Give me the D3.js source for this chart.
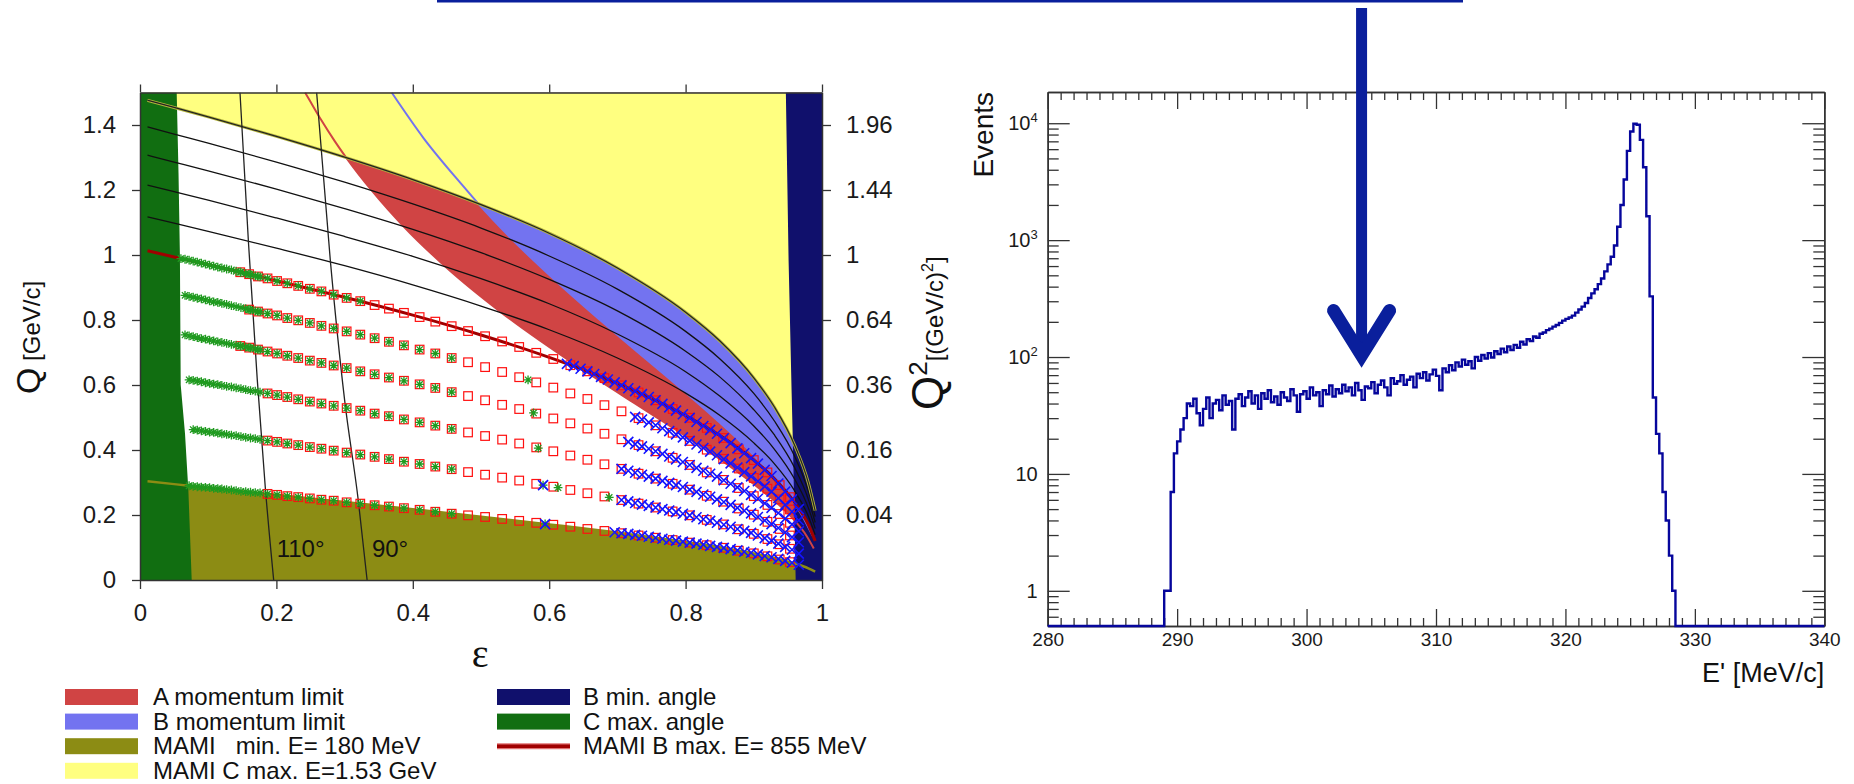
<!DOCTYPE html>
<html lang="en">
<head>
<meta charset="utf-8">
<title>Q vs epsilon coverage and E' spectrum</title>
<script src="https://cdn.jsdelivr.net/npm/d3@7"></script>
<style>
  html, body { margin: 0; padding: 0; background: #fff; }
  svg { display: block; font-family: "Liberation Sans", Arial, sans-serif; }
  .axis text { fill: #1a1a1a; }
  .axis path, .axis line { stroke: #333; }
</style>
</head>
<body>
<svg id="chart" width="1854" height="784"></svg>
<script>
// ---------------- left panel data (epsilon, Q in GeV/c) ----------------
// beam-energy curves, sampled at these epsilon values
const lineEps = [0.011, 0.05, 0.1, 0.2, 0.3, 0.4, 0.5, 0.6, 0.7, 0.8, 0.85, 0.9, 0.93, 0.96, 0.98, 0.99];
const q1530 = [1.476, 1.454, 1.425, 1.365, 1.301, 1.232, 1.155, 1.067, 0.960, 0.824, 0.736, 0.622, 0.533, 0.414, 0.299, 0.213];
const q1395 = [1.394, 1.372, 1.344, 1.286, 1.224, 1.157, 1.083, 0.997, 0.895, 0.765, 0.681, 0.574, 0.490, 0.380, 0.273, 0.195];
const q1260 = [1.307, 1.286, 1.259, 1.203, 1.143, 1.079, 1.007, 0.925, 0.828, 0.704, 0.625, 0.524, 0.447, 0.345, 0.248, 0.177];
const q1125 = [1.215, 1.195, 1.169, 1.114, 1.057, 0.996, 0.927, 0.850, 0.757, 0.641, 0.566, 0.474, 0.403, 0.310, 0.222, 0.158];
const q990  = [1.117, 1.098, 1.073, 1.021, 0.967, 0.908, 0.843, 0.770, 0.683, 0.575, 0.507, 0.422, 0.358, 0.274, 0.196, 0.139];
const q855  = [1.013, 0.994, 0.970, 0.921, 0.870, 0.815, 0.754, 0.685, 0.605, 0.506, 0.445, 0.369, 0.312, 0.238, 0.170, 0.120];
const q180  = [0.304, 0.295, 0.284, 0.262, 0.240, 0.218, 0.195, 0.171, 0.146, 0.117, 0.101, 0.082, 0.068, 0.051, 0.036, 0.026];

// spectrometer limits
const aLimitEps = [0.242, 0.2472, 0.2653, 0.286, 0.3026, 0.34, 0.387, 0.448, 0.5305, 0.647, 0.725, 0.777, 0.823, 0.857, 0.903, 0.955, 0.977, 0.988];
const aLimitQ   = [1.5, 1.4815, 1.4168, 1.349, 1.299, 1.198, 1.087, 0.964, 0.822, 0.65, 0.544, 0.4745, 0.411, 0.362, 0.29, 0.194, 0.137, 0.097];
const bLimitEps = [0.369, 0.416, 0.473, 0.496, 0.548, 0.613, 0.695, 0.802, 0.845, 0.893, 0.946, 0.972, 0.986];
const bLimitQ   = [1.5, 1.359, 1.214, 1.158, 1.043, 0.914, 0.763, 0.573, 0.494, 0.399, 0.274, 0.194, 0.137];
const cMaxEps = [0.0538, 0.0565, 0.0585, 0.0597, 0.066, 0.0709, 0.0758];
const cMaxQ   = [1.5, 1.25, 1.0, 0.6, 0.45, 0.277, 0];
const bMinEps = [0.947, 0.951, 0.9555, 0.958, 0.9614];
const bMinQ   = [1.5, 0.985, 0.574, 0.36, 0];

// constant angle lines
const a110Eps = [0.1466, 0.159, 0.172, 0.184, 0.196];
const a110Q   = [1.5, 1.04, 0.615, 0.277, 0];
const a90Eps  = [0.259, 0.279, 0.300, 0.320, 0.333];
const a90Q    = [1.5, 0.985, 0.554, 0.246, 0];
const angleLabels = ['110°', '90°'];
const angleLabelEps = [0.2004, 0.340];
const angleLabelQ = [0.072, 0.072];

// measurement rows (855, 720, 585, 450, 315, 180 MeV)
const starEps = [0.060, 0.066, 0.072, 0.078, 0.084, 0.090, 0.096, 0.102, 0.108, 0.114, 0.120, 0.127, 0.134, 0.141, 0.148, 0.155, 0.162, 0.169, 0.176];
const starQ = [
  [0.989, 0.987, 0.984, 0.981, 0.978, 0.975, 0.972, 0.969, 0.966, 0.963, 0.960, 0.957, 0.954, 0.950, 0.947, 0.943, 0.940, 0.936, 0.933],
  [null, 0.876, 0.873, 0.870, 0.867, 0.865, 0.862, 0.859, 0.856, 0.854, 0.851, 0.848, 0.844, 0.841, 0.838, 0.835, 0.831, 0.828, 0.825],
  [null, 0.754, 0.751, 0.749, 0.746, 0.743, 0.741, 0.738, 0.736, 0.733, 0.731, 0.728, 0.725, 0.723, 0.720, 0.717, 0.714, 0.711, 0.708],
  [null, null, 0.616, 0.614, 0.612, 0.610, 0.607, 0.605, 0.603, 0.601, 0.599, 0.596, 0.594, 0.591, 0.589, 0.586, 0.583, 0.581, 0.578],
  [null, null, null, 0.463, 0.461, 0.459, 0.457, 0.455, 0.454, 0.452, 0.450, 0.448, 0.446, 0.444, 0.441, 0.439, 0.437, 0.435, 0.433],
  [null, null, 0.290, 0.288, 0.287, 0.286, 0.285, 0.284, 0.282, 0.281, 0.280, 0.278, 0.277, 0.275, 0.273, 0.272, 0.270, 0.269, 0.268]
];
const squareEps = [0.147, 0.160, 0.173, 0.187, 0.201, 0.216, 0.232, 0.249, 0.266, 0.284, 0.303, 0.323, 0.344, 0.365, 0.387, 0.410, 0.433, 0.457, 0.481, 0.506,
  0.531, 0.556, 0.581, 0.606, 0.631, 0.656, 0.681, 0.706, 0.731, 0.756, 0.781, 0.806, 0.831, 0.855, 0.878, 0.900, 0.920, 0.938, 0.953];
const squareQ = [
  [0.947, 0.941, 0.934, 0.928, 0.920, 0.913, 0.905, 0.896, 0.888, 0.878, 0.868, 0.858, 0.846, 0.835, 0.822, 0.809, 0.795, 0.781, 0.766, 0.750,
   0.734, 0.717, 0.699, 0.680, 0.661, 0.642, 0.621, 0.599, 0.577, 0.553, 0.526, 0.499, 0.468, 0.437, 0.402, 0.369, 0.331, 0.292, 0.255],
  [null, 0.832, 0.826, 0.820, 0.814, 0.806, 0.799, 0.791, 0.782, 0.774, 0.765, 0.755, 0.744, 0.733, 0.722, 0.709, 0.697, 0.683, 0.670, 0.655,
   0.640, 0.624, 0.608, 0.592, 0.574, 0.557, 0.538, 0.519, 0.498, 0.476, 0.453, 0.428, 0.401, 0.373, 0.343, 0.314, 0.281, 0.248, 0.217],
  [0.720, 0.715, 0.709, 0.703, 0.697, 0.690, 0.683, 0.675, 0.668, 0.660, 0.652, 0.642, 0.633, 0.623, 0.613, 0.602, 0.591, 0.578, 0.566, 0.553,
   0.539, 0.526, 0.512, 0.497, 0.482, 0.466, 0.450, 0.433, 0.415, 0.396, 0.376, 0.354, 0.331, 0.308, 0.283, 0.258, 0.231, 0.203, 0.176],
  [null, null, null, 0.574, 0.569, 0.563, 0.556, 0.549, 0.543, 0.536, 0.529, 0.521, 0.512, 0.504, 0.494, 0.485, 0.475, 0.465, 0.454, 0.443,
   0.432, 0.420, 0.408, 0.396, 0.383, 0.370, 0.356, 0.342, 0.327, 0.312, 0.296, 0.278, 0.259, 0.241, 0.220, 0.201, 0.179, 0.157, 0.137],
  [null, null, null, 0.429, 0.425, 0.420, 0.415, 0.409, 0.404, 0.398, 0.392, 0.386, 0.379, 0.372, 0.364, 0.357, 0.349, 0.341, 0.332, 0.324,
   0.315, 0.306, 0.296, 0.287, 0.277, 0.267, 0.257, 0.246, 0.235, 0.223, 0.211, 0.199, 0.185, 0.171, 0.156, 0.142, 0.126, 0.110, 0.096],
  [null, null, null, 0.265, 0.262, 0.258, 0.255, 0.251, 0.247, 0.244, 0.239, 0.235, 0.230, 0.226, 0.221, 0.216, 0.210, 0.204, 0.199, 0.194,
   0.188, 0.182, 0.176, 0.170, 0.164, 0.157, 0.151, 0.144, 0.137, 0.130, 0.123, 0.115, 0.107, 0.099, 0.090, 0.082, 0.073, 0.063, 0.055]
];
const lastStarSquare = [11, 17, 17, 17, 17, 17];
const extraStarEps = [0.569, 0.577, 0.584, 0.591, 0.613, 0.688, 0.594];
const extraStarQ   = [0.616, 0.514, 0.406, 0.292, 0.284, 0.254, 0.173];
const crossEps = [0.626, 0.636, 0.646, 0.656, 0.666, 0.676, 0.686, 0.696, 0.706, 0.716, 0.726, 0.736, 0.746, 0.756, 0.766, 0.776, 0.786, 0.796,
  0.806, 0.816, 0.826, 0.836, 0.846, 0.856, 0.866, 0.876, 0.886, 0.896, 0.906, 0.916, 0.926, 0.936, 0.946, 0.956, 0.966];
const crossQ = [
  [0.665, 0.658, 0.650, 0.642, 0.634, 0.625, 0.617, 0.608, 0.599, 0.590, 0.581, 0.572, 0.563, 0.553, 0.542, 0.531, 0.521, 0.510,
   0.499, 0.486, 0.474, 0.462, 0.450, 0.436, 0.421, 0.405, 0.390, 0.375, 0.358, 0.339, 0.320, 0.297, 0.272, 0.248, 0.218],
  [null, null, null, null, null, null, null, null, null, null, 0.502, 0.494, 0.485, 0.476, 0.467, 0.458, 0.448, 0.439,
   0.428, 0.417, 0.406, 0.395, 0.384, 0.372, 0.359, 0.346, 0.332, 0.319, 0.304, 0.288, 0.272, 0.252, 0.231, 0.210, 0.184],
  [null, null, null, null, null, null, null, null, null, 0.425, 0.418, 0.411, 0.404, 0.396, 0.388, 0.380, 0.371, 0.363,
   0.354, 0.345, 0.336, 0.327, 0.318, 0.307, 0.296, 0.285, 0.274, 0.262, 0.250, 0.236, 0.222, 0.206, 0.189, 0.171, 0.150],
  [null, null, null, null, null, null, null, null, 0.342, 0.336, 0.330, 0.324, 0.318, 0.312, 0.305, 0.299, 0.292, 0.286,
   0.278, 0.271, 0.263, 0.256, 0.248, 0.240, 0.231, 0.222, 0.213, 0.205, 0.194, 0.183, 0.172, 0.160, 0.146, 0.132, 0.116],
  [null, null, null, null, null, null, null, null, 0.246, 0.242, 0.237, 0.232, 0.228, 0.223, 0.218, 0.214, 0.209, 0.204,
   0.199, 0.193, 0.187, 0.182, 0.176, 0.170, 0.164, 0.157, 0.151, 0.145, 0.137, 0.129, 0.121, 0.112, 0.102, 0.093, 0.081],
  [null, null, null, null, null, null, null, 0.147, 0.144, 0.142, 0.139, 0.136, 0.133, 0.130, 0.127, 0.124, 0.121, 0.118,
   0.115, 0.112, 0.109, 0.105, 0.102, 0.099, 0.095, 0.091, 0.087, 0.084, 0.079, 0.074, 0.070, 0.065, 0.059, 0.053, 0.047]
];
const extraCrossEps = [0.591, 0.594];
const extraCrossQ   = [0.292, 0.172];

const epsTicks = [0, 0.2, 0.4, 0.6, 0.8, 1];
const qTicks = [0, 0.2, 0.4, 0.6, 0.8, 1, 1.2, 1.4];
const q2TickQ = [1.4, 1.2, 1, 0.8, 0.6, 0.4, 0.2];
const q2Labels = ['1.96', '1.44', '1', '0.64', '0.36', '0.16', '0.04'];

const legendLeft = ['A momentum limit', 'B momentum limit', 'MAMI   min. E= 180 MeV', 'MAMI C max. E=1.53 GeV'];
const legendRight = ['B min. angle', 'C max. angle', 'MAMI B max. E= 855 MeV'];

// ---------------- right panel data (E' spectrum) ----------------
const histStart = 289.0;
const binWidth = 0.25;
const histCounts = [
  1, 1, 7, 15, 19, 24, 30, 40,
  38, 44, 33, 26, 36, 45, 30, 40, 43, 35, 47, 39, 42, 24, 44, 48,
  38, 45, 51, 40, 47, 36, 49, 44, 52, 41, 46, 39, 50, 45, 42, 53,
  47, 34, 48, 51, 44, 55, 47, 50, 38, 52, 48, 57, 46, 53, 49, 58,
  51, 55, 47, 60, 52, 43, 56, 54, 61, 49, 58, 63, 55, 47, 66, 59,
  62, 70, 58, 64, 68, 55, 72, 66, 74, 63, 71, 78, 69, 52, 80, 74,
  85, 77, 90, 83, 95, 86, 92, 80, 100, 93, 104, 97, 108, 99, 112, 106,
  118, 110, 123, 115, 127, 120, 135, 128, 142, 137, 150, 146, 158, 162, 170, 175,
  182, 188, 196, 205, 212, 218, 226, 240, 255, 270, 290, 320, 350, 380, 420, 470,
  540, 620, 720, 900,
  1300, 2000, 3300, 5800, 8500, 9900, 9700, 7200, 4200, 1600, 330, 45, 22, 15, 7, 4, 2, 1
];
const eTicks = [280, 290, 300, 310, 320, 330, 340];
const nTicks = [1, 10, 100, 1000, 10000];
const arrowE = 304.25;
const arrowTipN = 103;

// colours
const colA = '#d04444', colB = '#7373f0', colOlive = '#8c8c14', colYellow = '#ffff80',
      colGreen = '#116e11', colNavy = '#10106c', colLine855 = '#a00000', colHist = '#06069c', colArrow = '#0a1f9c';

const svg = d3.select('#chart');
const pts = (xs, ys) => xs.map((x, i) => [x, ys[i]]).filter(d => d[1] != null);

// ================= left panel =================
const xe = d3.scaleLinear().domain([0, 1]).range([140, 822]);
const yq = d3.scaleLinear().domain([0, 1.5]).range([580, 92.5]);
const [eLo, eHi] = xe.domain();
const [qLo, qHi] = yq.domain();

svg.append('clipPath').attr('id', 'clipL').append('rect')
  .attr('x', xe(eLo)).attr('y', yq(qHi)).attr('width', xe(eHi) - xe(eLo)).attr('height', yq(qLo) - yq(qHi));
const plot = svg.append('g').attr('clip-path', 'url(#clipL)');

const above = d3.area().x(d => xe(d[0])).y0(yq(qHi)).y1(d => yq(d[1])).curve(d3.curveMonotoneX);
const below = d3.area().x(d => xe(d[0])).y0(yq(qLo)).y1(d => yq(d[1])).curve(d3.curveMonotoneX);
const smooth = d3.line().x(d => xe(d[0])).y(d => yq(d[1])).curve(d3.curveMonotoneX);
const poly = d3.line().x(d => xe(d[0])).y(d => yq(d[1]));

plot.append('rect').attr('x', xe(eLo)).attr('y', yq(qHi))
  .attr('width', xe(eHi) - xe(eLo)).attr('height', yq(qLo) - yq(qHi)).attr('fill', '#fff');
plot.append('path').attr('d', above(pts(aLimitEps, aLimitQ))).attr('fill', colA);
plot.append('path').attr('d', above(pts(bLimitEps, bLimitQ))).attr('fill', colB);
plot.append('path').attr('d', above(pts(lineEps, q1530))).attr('fill', colYellow);
plot.append('path').attr('d', below(pts(lineEps, q180))).attr('fill', colOlive);
plot.append('path').attr('d', poly([[eLo, qHi], ...pts(cMaxEps, cMaxQ), [eLo, qLo]])).attr('fill', colGreen);
plot.append('path').attr('d', poly([[eHi, qHi], ...pts(bMinEps, bMinQ), [eHi, qLo]])).attr('fill', colNavy);

function stroke(d, color, w, lineGen) {
  plot.append('path').attr('d', (lineGen || smooth)(d)).attr('fill', 'none')
    .attr('stroke', color).attr('stroke-width', w).attr('stroke-linejoin', 'round');
}
stroke(pts(aLimitEps, aLimitQ), colA, 2);
stroke(pts(bLimitEps, bLimitQ), colB, 2);
[q1395, q1260, q1125, q990].forEach(q => stroke(pts(lineEps, q), '#111', 1.3));
stroke(pts(lineEps, q1530), '#b4b43c', 3);
stroke(pts(lineEps, q1530), '#222', 1.2);
stroke(pts(lineEps, q180), colOlive, 2.5);
stroke(pts(lineEps, q855), colLine855, 3);
stroke(pts(a110Eps, a110Q), '#222', 1.3);
stroke(pts(a90Eps, a90Q), '#222', 1.3);

// markers
const squares = [], stars = [], crosses = [];
squareQ.forEach((row, r) => row.forEach((q, i) => {
  if (q == null) return;
  squares.push([squareEps[i], q]);
  if (i <= lastStarSquare[r]) stars.push([squareEps[i], q]);
}));
starQ.forEach(row => row.forEach((q, i) => { if (q != null) stars.push([starEps[i], q]); }));
pts(extraStarEps, extraStarQ).forEach(d => stars.push(d));
crossQ.forEach(row => row.forEach((q, i) => { if (q != null) crosses.push([crossEps[i], q]); }));
pts(extraCrossEps, extraCrossQ).forEach(d => crosses.push(d));

const sq = 4.3;
plot.append('g').selectAll('rect').data(squares).join('rect')
  .attr('x', d => xe(d[0]) - sq).attr('y', d => yq(d[1]) - sq)
  .attr('width', 2 * sq).attr('height', 2 * sq)
  .attr('fill', 'none').attr('stroke', '#ff1010').attr('stroke-width', 1.2);

const starPath = (x, y, r) => {
  const k = r * 0.72;
  return `M${x - r},${y}H${x + r}M${x},${y - r}V${y + r}` +
         `M${x - k},${y - k}L${x + k},${y + k}M${x - k},${y + k}L${x + k},${y - k}`;
};
plot.append('g').selectAll('path').data(stars).join('path')
  .attr('d', d => starPath(xe(d[0]), yq(d[1]), 4.4))
  .attr('fill', 'none').attr('stroke', '#1f9a1f').attr('stroke-width', 1.3);

const crossPath = (x, y, r) => `M${x - r},${y - r}L${x + r},${y + r}M${x - r},${y + r}L${x + r},${y - r}`;
plot.append('g').selectAll('path').data(crosses).join('path')
  .attr('d', d => crossPath(xe(d[0]), yq(d[1]), 5))
  .attr('fill', 'none').attr('stroke', '#1414ff').attr('stroke-width', 1.6);

plot.append('g').selectAll('text').data(angleLabels).join('text')
  .attr('x', (d, i) => xe(angleLabelEps[i])).attr('y', (d, i) => yq(angleLabelQ[i]))
  .attr('font-size', 24).attr('fill', '#111').text(d => d);

// axes
function styleAxis(g, fs) {
  g.attr('font-size', null).attr('font-family', null).attr('class', 'axis');
  g.selectAll('text').attr('font-size', fs);
  g.selectAll('path.domain').attr('stroke-width', 1.5);
  g.selectAll('.tick line').attr('stroke-width', 1.3);
}
const fmt = d3.format('~g');
svg.append('g').attr('transform', `translate(${xe(eLo)},0)`)
  .call(d3.axisLeft(yq).tickValues(qTicks).tickFormat(fmt).tickSizeInner(8).tickSizeOuter(0).tickPadding(16))
  .call(g => styleAxis(g, 24));
svg.append('g').attr('transform', `translate(0,${yq(qLo)})`)
  .call(d3.axisBottom(xe).tickValues(epsTicks).tickFormat(fmt).tickSizeInner(9).tickSizeOuter(0).tickPadding(15))
  .call(g => styleAxis(g, 24));
svg.append('g').attr('transform', `translate(0,${yq(qHi)})`)
  .call(d3.axisTop(xe).tickValues(epsTicks).tickFormat('').tickSizeInner(8).tickSizeOuter(0))
  .call(g => styleAxis(g, 24));
svg.append('g').attr('transform', `translate(${xe(eHi)},0)`)
  .call(d3.axisRight(yq).tickValues(q2TickQ).tickFormat((d, i) => q2Labels[i]).tickSizeInner(9).tickSizeOuter(0).tickPadding(15))
  .call(g => styleAxis(g, 24));

// axis titles
svg.append('text').attr('x', xe(0.4986)).attr('y', 667)
  .attr('text-anchor', 'middle').attr('font-family', '"Liberation Serif", "DejaVu Serif", serif')
  .attr('font-size', 40).attr('fill', '#111').text('ε');

const qTitle = svg.append('text').attr('transform', 'translate(40,394) rotate(-90)').attr('fill', '#111');
qTitle.append('tspan').attr('font-size', 34).text('Q');
qTitle.append('tspan').attr('font-size', 24).text(' [GeV/c]');

const q2Title = svg.append('text').attr('transform', 'translate(943,410) rotate(-90)').attr('fill', '#111');
q2Title.append('tspan').attr('font-size', 44).text('Q');
q2Title.append('tspan').attr('font-size', 26).attr('dy', -16).text('2');
q2Title.append('tspan').attr('font-size', 24).attr('dy', 16).text('[(GeV/c)');
q2Title.append('tspan').attr('font-size', 16).attr('dy', -10).text('2');
q2Title.append('tspan').attr('font-size', 24).attr('dy', 10).text(']');

// legend
const legColorsL = [colA, colB, colOlive, colYellow];
const legColorsR = [colNavy, colGreen];
const rowY = i => 697 + i * 24.6;
const leg = svg.append('g').attr('font-size', 24).attr('fill', '#111');
legendLeft.forEach((t, i) => {
  leg.append('rect').attr('x', 65).attr('y', rowY(i) - 8).attr('width', 73).attr('height', 16).attr('fill', legColorsL[i]);
  leg.append('text').attr('x', 153).attr('y', rowY(i) + 8).style('white-space', 'pre').text(t);
});
legendRight.forEach((t, i) => {
  if (i < legColorsR.length) {
    leg.append('rect').attr('x', 497).attr('y', rowY(i) - 8).attr('width', 73).attr('height', 16).attr('fill', legColorsR[i]);
  } else {
    leg.append('line').attr('x1', 497).attr('x2', 570).attr('y1', rowY(i)).attr('y2', rowY(i))
      .attr('stroke', '#e07070').attr('stroke-width', 6);
    leg.append('line').attr('x1', 497).attr('x2', 570).attr('y1', rowY(i)).attr('y2', rowY(i))
      .attr('stroke', colLine855).attr('stroke-width', 3.5);
  }
  leg.append('text').attr('x', 583).attr('y', rowY(i) + 8).style('white-space', 'pre').text(t);
});

// ================= right panel =================
const xE = d3.scaleLinear().domain([280, 340]).range([1047.7, 1824.3]);
const yN = d3.scaleLog().domain([0.5, 18500]).range([626, 92]);
const [nBot] = yN.range();

const minorE = d3.range(xE.domain()[0] + 1, xE.domain()[1]).filter(v => v % 10 !== 0);
const minorN = [0.6, 0.7, 0.8, 0.9];
[1, 10, 100, 1000].forEach(dec => d3.range(2, 10).forEach(k => minorN.push(k * dec)));

function rAxis(axis, tr) {
  return svg.append('g').attr('transform', tr).call(axis).call(g => styleAxis(g, 19));
}
rAxis(d3.axisBottom(xE).tickValues(eTicks).tickFormat(d3.format('d')).tickSizeInner(-17).tickSizeOuter(0).tickPadding(7), `translate(0,${yN(0.5)})`);
rAxis(d3.axisBottom(xE).tickValues(minorE).tickFormat('').tickSizeInner(-8).tickSizeOuter(0), `translate(0,${yN(0.5)})`);
rAxis(d3.axisTop(xE).tickValues(eTicks).tickFormat('').tickSizeInner(-17).tickSizeOuter(0), `translate(0,${yN(18500)})`);
rAxis(d3.axisTop(xE).tickValues(minorE).tickFormat('').tickSizeInner(-8).tickSizeOuter(0), `translate(0,${yN(18500)})`);
const yAx = rAxis(d3.axisLeft(yN).tickValues(nTicks).tickFormat('').tickSizeInner(-22).tickSizeOuter(0).tickPadding(10), `translate(${xE(280)},0)`);
rAxis(d3.axisLeft(yN).tickValues(minorN).tickFormat('').tickSizeInner(-11).tickSizeOuter(0), `translate(${xE(280)},0)`);
rAxis(d3.axisRight(yN).tickValues(nTicks).tickFormat('').tickSizeInner(-22).tickSizeOuter(0), `translate(${xE(340)},0)`);
rAxis(d3.axisRight(yN).tickValues(minorN).tickFormat('').tickSizeInner(-11).tickSizeOuter(0), `translate(${xE(340)},0)`);

// log labels: 1, 10, 10^2 ...
yAx.selectAll('.tick').each(function (d) {
  const t = d3.select(this).select('text').attr('font-size', 20).attr('x', -10);
  const p = Math.round(Math.log10(d));
  if (p <= 1) { t.text(String(d)); return; }
  t.text('');
  t.append('tspan').text('10');
  t.append('tspan').attr('font-size', 13).attr('dy', -8).text(String(p));
});

// histogram outline
const histPts = [[xE.domain()[0], 0]];
histCounts.forEach((c, i) => histPts.push([histStart + i * binWidth, c]));
histPts.push([histStart + histCounts.length * binWidth, 0], [xE.domain()[1], 0]);
svg.append('path')
  .attr('d', d3.line().x(d => xE(d[0])).y(d => d[1] > 0 ? yN(d[1]) : nBot).curve(d3.curveStepAfter)(histPts))
  .attr('fill', 'none').attr('stroke', colHist).attr('stroke-width', 2.4);

svg.append('text').attr('transform', `translate(993,${yN(18500)}) rotate(-90)`)
  .attr('text-anchor', 'end').attr('font-size', 28).attr('fill', '#111').text('Events');
svg.append('text').attr('x', xE(340)).attr('y', 682)
  .attr('text-anchor', 'end').attr('font-size', 27).attr('fill', '#111').text("E' [MeV/c]");

// slide annotation: bar and arrow pointing at the spectrum
svg.append('rect').attr('x', 437).attr('y', 0).attr('width', 1026).attr('height', 2.5).attr('fill', colArrow);
const ax = xE(arrowE), tipY = yN(arrowTipN);
svg.append('rect').attr('x', ax - 5.5).attr('y', 8).attr('width', 11).attr('height', tipY - 12).attr('fill', colArrow);
svg.append('path').attr('d', `M${ax - 28},${tipY - 45}L${ax},${tipY}L${ax + 28},${tipY - 45}`)
  .attr('fill', 'none').attr('stroke', colArrow).attr('stroke-width', 13)
  .attr('stroke-linecap', 'round').attr('stroke-linejoin', 'miter');
</script>
</body>
</html>
